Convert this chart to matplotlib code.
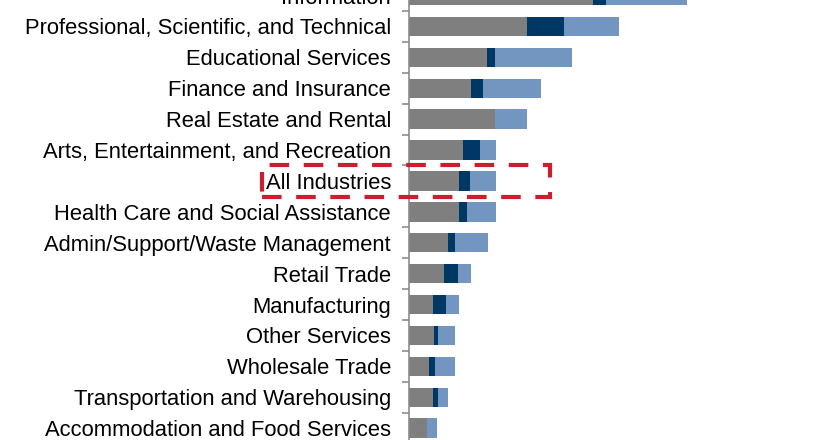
import matplotlib.pyplot as plt
import matplotlib.transforms as mtransforms
from matplotlib.patches import Rectangle

plt.rcParams['font.family'] = ['Liberation Sans', 'DejaVu Sans']

industries = [
    'Information',
    'Professional, Scientific, and Technical',
    'Educational Services',
    'Finance and Insurance',
    'Real Estate and Rental',
    'Arts, Entertainment, and Recreation',
    'All Industries',
    'Health Care and Social Assistance',
    'Admin/Support/Waste Management',
    'Retail Trade',
    'Manufacturing',
    'Other Services',
    'Wholesale Trade',
    'Transportation and Warehousing',
    'Accommodation and Food Services',
]
seg_gray = [18.4, 11.8, 7.8, 6.2, 8.6, 5.4, 5.0, 5.0, 3.9, 3.5, 2.4, 2.5, 2.0, 2.4, 1.8]
seg_navy = [1.3, 3.7, 0.8, 1.2, 0.0, 1.7, 1.1, 0.8, 0.7, 1.4, 1.3, 0.4, 0.6, 0.5, 0.0]
seg_light = [8.0, 5.5, 7.7, 5.8, 3.2, 1.6, 2.6, 2.9, 3.3, 1.3, 1.3, 1.7, 2.0, 1.0, 1.0]

colors = ['#7f7f7f', '#003865', '#7396c0']

fig = plt.figure(figsize=(8.4, 4.4), dpi=100)
# the plot is cropped: the top row runs past the upper edge of the image
ax = fig.add_axes([409 / 840, -3.6 / 440, 1 - 409 / 840, 463.5 / 440])

y = list(range(len(industries)))
left = [0] * len(y)
for vals, c in zip([seg_gray, seg_navy, seg_light], colors):
    ax.barh(y, vals, left=left, height=0.625, color=c, edgecolor='none')
    left = [a + b for a, b in zip(left, vals)]

for s in ['top', 'right', 'bottom']:
    ax.spines[s].set_visible(False)
ax.spines['left'].set_color('#8c8c8c')
ax.spines['left'].set_linewidth(1.2)
ax.set_xticks([])

ax.set_yticks(y)
ax.set_yticklabels(industries, fontsize=15.8, color='black')
ax.tick_params(axis='y', which='major', length=0, pad=13)
ax.set_yticks([i + 0.5 for i in y[:-1]], minor=True)
ax.tick_params(axis='y', which='minor', length=5, width=1.2, color='#8c8c8c')

ax.set_xlim(0, 43)
ax.set_ylim(14.5, -0.5)

# red dashed box around the "All Industries" row
idx = industries.index('All Industries')
trans = mtransforms.blended_transform_factory(fig.transFigure, ax.transData)
box = Rectangle((262 / 840, idx + 0.52), (550 - 262) / 840, -1.04,
                transform=trans, fill=False, edgecolor='#c8202f',
                linewidth=3, linestyle=(0, (4.7, 3.5)), clip_on=False)
fig.add_artist(box)

fig.savefig('out.png', dpi=100)
